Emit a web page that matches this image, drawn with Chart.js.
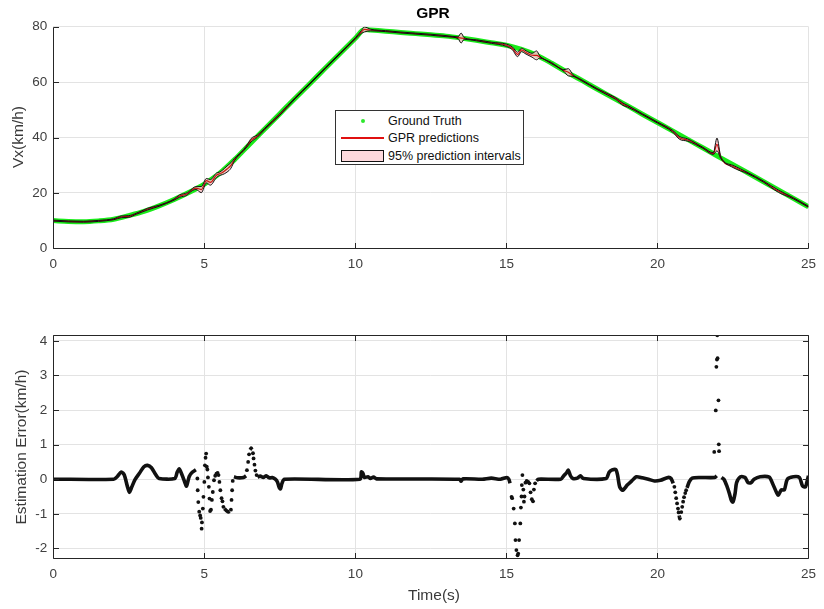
<!DOCTYPE html>
<html><head><meta charset="utf-8">
<script src="https://cdn.jsdelivr.net/npm/chart.js@4.4.1/dist/chart.umd.min.js"></script>
<style>
html,body{margin:0;padding:0;background:#fff;width:824px;height:609px;overflow:hidden;font-family:"Liberation Sans",Arial,Helvetica,sans-serif;}
canvas{position:absolute;left:0;}
#c1{top:0;}
#c2{top:300px;}
.lbl{position:absolute;color:#3a3a3a;white-space:nowrap;line-height:1;}
.rot{transform:translate(-50%,-50%) rotate(-90deg);}
.ctr{transform:translate(-50%,-50%);}
#legend{position:absolute;left:335px;top:110px;width:187px;height:53px;border:1px solid #333;background:#fff;}
#legend .t{position:absolute;left:52px;font-size:12.5px;color:#111;transform:translateY(-50%);white-space:nowrap;line-height:1;}
</style></head><body>
<canvas id="c1" width="824" height="295"></canvas>
<canvas id="c2" width="824" height="300"></canvas>
<div class="lbl ctr" style="left:433px;top:13px;font-weight:bold;font-size:15.5px;color:#000;">GPR</div>
<div class="lbl rot" style="left:18px;top:137px;font-size:15.5px;">Vx(km/h)</div>
<div class="lbl rot" style="left:21px;top:447px;font-size:15.5px;">Estimation Error(km/h)</div>
<div class="lbl ctr" style="left:434px;top:595px;font-size:15.5px;">Time(s)</div>
<div id="legend">
  <div style="position:absolute;left:25px;top:8px;width:4px;height:4px;border-radius:2px;background:#2ee82e;"></div>
  <div class="t" style="top:10px;">Ground Truth</div>
  <div style="position:absolute;left:5px;top:26px;width:43px;height:1.6px;background:#e01010;"></div>
  <div class="t" style="top:27px;">GPR predictions</div>
  <div style="position:absolute;left:5px;top:38.5px;width:41px;height:10.5px;border:1px solid #111;background:#fdd9dc;"></div>
  <div class="t" style="top:44.5px;">95% prediction intervals</div>
</div>
<script>
// ---- tick labels ----
const timeTicks = [0, 5, 10, 15, 20, 25];
const speedTicks = [0, 20, 40, 60, 80];
const errorTicks = [-2, -1, 0, 1, 2, 3, 4];

// ---- ground truth Vx (km/h) ----
const gtTime  = [0,0.5,1,1.5,2,2.5,3,3.5,4,4.5,5,5.5,6,6.5,7,7.5,8,8.5,9,9.5,10,10.3,10.5,11,11.5,12,12.5,13,13.5,14,14.5,15,15.5,16,16.5,17,17.5,18,18.5,19,19.5,20,20.5,21,21.5,22,22.5,23,23.5,24,24.5,25];
const gtSpeed = [10.0,9.7,9.6,9.9,10.5,11.8,13.3,15.3,17.6,20.2,23.2,27.0,32.0,37.6,43.1,48.6,54.1,59.5,65.0,70.4,75.8,79.0,78.8,78.4,77.9,77.5,77.1,76.6,75.9,75.1,74.2,73.3,71.8,69.7,66.8,63.6,60.6,57.5,54.5,51.5,48.4,45.4,42.4,39.3,36.3,33.2,30.2,27.2,24.1,21.1,18.0,15.0];

// ---- GPR predictions and 95% interval half-width ----
const predTime  = [0,0.5,1,1.5,2,2.25,2.5,2.75,3,3.12,3.5,4,4.17,4.44,4.5,4.72,4.9,5.07,5.2,5.4,5.5,5.6,5.75,5.88,6,6.3,6.45,6.55,6.75,7,7.5,8,8.5,9,9.5,10,10.2,10.3,10.5,11,11.5,12,12.5,13,13.4,13.5,13.6,14,14.5,15,15.2,15.37,15.5,15.65,15.85,16,16.1,16.5,16.9,17.05,17.2,17.5,18,18.5,18.62,18.86,19,19.5,20,20.5,20.74,21,21.5,21.85,21.97,22.1,22.5,23,23.5,24,24.5,25];
const predSpeed = [10.0,9.7,9.6,9.9,10.5,11.35,11.5,12.5,13.6,14.15,15.35,17.6,18.8,19.7,20.3,21.75,21.2,24.4,23.8,26.35,26.9,27.4,28.6,29.9,32.05,35.45,37.5,39.05,40.45,43.15,48.35,54.1,59.5,65.0,70.4,75.8,78.1,79.0,78.8,78.4,77.9,77.5,77.1,76.6,76.05,75.9,75.75,75.1,74.2,73.3,72.15,70.0,71.6,70.7,69.7,69.65,69.1,66.8,64.2,63.55,62.4,60.6,57.5,54.75,54.05,52.0,51.35,48.4,45.4,42.3,39.8,39.1,36.3,34.2,37.5,32.65,29.55,27.1,24.15,20.65,18.05,15.0];
const predHalf  = [0.18,0.18,0.18,0.18,0.18,0.3,0.3,0.2,0.25,0.3,0.2,0.2,0.4,0.4,0.3,0.5,1.1,0.8,1.0,0.8,0.6,0.8,1.1,1.0,0.4,0.2,0.4,0.6,0.4,0.2,0.3,0.18,0.18,0.18,0.18,0.2,0.5,0.9,0.3,0.18,0.18,0.18,0.18,0.2,0.3,1.8,0.3,0.18,0.2,0.4,0.5,0.8,0.6,0.6,0.7,1.6,0.4,0.2,0.3,1.3,0.3,0.18,0.18,0.3,0.3,0.4,0.3,0.18,0.18,0.3,0.5,0.4,0.18,0.3,2.3,0.3,0.4,0.2,0.2,0.4,0.2,0.18];

// ---- estimation error: continuous runs (null = break) ----
const errLineTime  = [0,2.0,2.12,2.25,2.35,2.45,2.52,2.6,2.7,2.85,3.0,3.12,3.25,3.4,3.5,4.02,4.1,4.17,4.25,4.35,4.41,4.5,4.6,4.72,null,
  5.66,5.72,5.8,5.84,null,
  5.98,6.1,6.3,6.38,null,
  6.52,6.55,6.58,null,
  6.76,6.85,6.95,7.05,7.15,7.25,7.35,7.42,7.48,7.52,7.57,7.65,10.15,10.2,10.25,10.3,10.42,10.5,10.6,10.7,13.45,13.5,13.56,14.2,14.5,14.8,15.02,15.08,15.12,null,
  16.0,16.05,16.8,16.9,17.0,17.05,17.12,17.2,17.35,17.45,17.55,18.3,18.4,18.5,18.62,18.68,18.75,18.85,19.0,19.15,19.3,19.5,19.7,19.9,20.1,20.35,20.45,20.52,null,
  20.72,20.74,20.76,null,
  20.98,21.05,21.15,21.4,21.9,21.96,null,
  22.12,22.2,22.3,22.38,22.45,22.5,22.57,22.62,22.75,22.9,23.0,23.1,23.2,23.4,23.7,23.8,23.95,24.0,24.1,24.2,24.3,24.5,24.7,24.8,24.9,24.97,25.0];
const errLineValue = [0,0,0.08,0.21,0.12,-0.2,-0.38,-0.22,-0.02,0.17,0.36,0.40,0.33,0.12,0.02,0.02,0.2,0.3,0.15,-0.08,-0.2,0.08,0.2,0.27,null,
  -0.85,-0.9,-0.95,-0.93,null,
  0.07,0.04,0.05,0.1,null,
  0.85,0.9,0.86,null,
  0.06,0.09,0.05,0.1,0.04,0.05,0.0,-0.08,-0.24,-0.28,-0.12,0.0,0.0,0.21,0.17,0.05,0.07,0.02,0.06,0.01,0.0,-0.06,0.01,0.0,0.03,0.0,0.05,0.0,-0.12,null,
  -0.05,0.0,0.0,0.1,0.2,0.26,0.1,0.02,0.03,0.1,0.02,0.02,0.2,0.27,0.28,0.12,-0.22,-0.32,-0.17,-0.05,0.07,0.04,0.0,-0.05,-0.03,0.05,0.02,-0.12,null,
  -1.05,-1.14,-1.1,null,
  -0.25,-0.08,0.03,0.05,0.05,0.1,null,
  0.05,0.0,-0.2,-0.41,-0.62,-0.66,-0.41,-0.1,0.07,0.05,-0.1,-0.1,0.0,0.07,0.06,-0.1,-0.4,-0.46,-0.31,-0.31,0.0,0.07,0.05,-0.19,-0.22,0.0,0.1];

// ---- estimation error: isolated samples ----
const errDotTime  = [4.77,4.78,4.80,4.83,4.86,4.88,4.91,4.92,4.95,4.97,5.0,5.02,5.04,5.06,5.08,5.1,5.12,5.15,5.17,5.19,5.22,5.25,5.28,5.32,5.36,5.4,5.44,5.47,5.5,5.53,5.57,5.6,5.63,5.88,5.9,5.92,5.94,
  6.41,6.45,6.48,6.61,6.63,6.66,6.69,6.73,
  15.17,15.19,15.24,15.28,15.3,15.33,15.37,15.39,15.42,15.46,15.48,15.5,15.51,15.53,15.56,15.58,15.6,15.63,15.67,15.72,15.76,15.8,15.84,15.88,15.91,15.95,
  20.56,20.59,20.62,20.65,20.68,20.7,20.79,20.82,20.85,20.88,20.92,20.95,
  21.88,21.93,21.95,21.97,21.99,21.98,22.02,22.03,22.04];
const errDotValue = [0.02,-0.32,-0.66,-0.94,-1.05,-1.12,-1.43,-1.25,-0.85,-0.51,-0.08,0.40,0.62,0.74,0.36,0.28,0.05,-0.22,-0.56,-0.92,-0.88,-0.6,-0.37,-0.03,0.1,0.16,0.18,0.12,-0.08,-0.32,-0.55,-0.64,-0.8,-0.88,-0.6,-0.32,-0.05,
  0.26,0.5,0.72,0.75,0.6,0.42,0.25,0.12,
  -0.51,-0.55,-0.85,-1.28,-1.76,-2.05,-2.2,-2.15,-1.76,-1.28,-0.82,-0.5,-0.17,0.12,-0.3,-0.65,-0.5,-0.1,-0.05,-0.08,-0.12,-0.38,-0.58,-0.64,-0.3,-0.12,
  -0.22,-0.38,-0.55,-0.7,-0.85,-0.96,-0.95,-0.8,-0.65,-0.52,-0.4,-0.32,
  0.79,1.99,3.25,3.46,3.5,4.16,2.28,1.01,0.81];

// ---- build library data ----
const pts = (xs, ys) => xs.map((t, i) => ({ x: t === null ? xs[i - 1] : t, y: ys[i] }));
const gtData = pts(gtTime, gtSpeed);
const predData = pts(predTime, predSpeed);
const loData = predTime.map((t, i) => ({ x: t, y: predSpeed[i] - predHalf[i] }));
const hiData = predTime.map((t, i) => ({ x: t, y: predSpeed[i] + predHalf[i] }));
const errLine = pts(errLineTime, errLineValue);
const errDots = pts(errDotTime, errDotValue);

const AX = '#262626';
const TICKC = '#404040';
const FONT = { family: '"Liberation Sans", Arial, Helvetica, sans-serif', size: 13.5 };
const GRID = '#e3e3e3';
const TL = 5.5;

function axesPlugin(boxed) {
  return {
    id: 'matlabAxes',
    afterDatasetsDraw(chart) {
      const { ctx, chartArea: a, scales } = chart;
      const x = scales.x, y = scales.y;
      const al = v => Math.round(v) + 0.5;
      const L = al(a.left), R = al(a.right), T = al(a.top), B = al(a.bottom);
      ctx.save();
      ctx.strokeStyle = AX; ctx.lineWidth = 1;
      ctx.beginPath();
      ctx.moveTo(L, T); ctx.lineTo(L, B); ctx.lineTo(R, B);
      if (boxed) { ctx.lineTo(R, T); ctx.lineTo(L, T); }
      x.ticks.forEach(tk => {
        const px = al(x.getPixelForValue(tk.value));
        ctx.moveTo(px, B); ctx.lineTo(px, B - TL);
        if (boxed) { ctx.moveTo(px, T); ctx.lineTo(px, T + TL); }
      });
      y.ticks.forEach(tk => {
        const py = al(y.getPixelForValue(tk.value));
        ctx.moveTo(L, py); ctx.lineTo(L + TL, py);
        if (boxed) { ctx.moveTo(R, py); ctx.lineTo(R - TL, py); }
      });
      ctx.stroke();
      ctx.restore();
    }
  };
}

function scalesFor(yMin, yMax, yTicks, xHeight) {
  return {
    x: {
      type: 'linear', min: 0, max: 25,
      afterBuildTicks: s => { s.ticks = timeTicks.map(v => ({ value: v })); },
      afterFit: s => { s.height = xHeight; },
      grid: { color: GRID, drawTicks: false },
      border: { display: false },
      ticks: { color: TICKC, font: FONT, padding: 8, maxRotation: 0 }
    },
    y: {
      type: 'linear', min: yMin, max: yMax,
      afterBuildTicks: s => { s.ticks = yTicks.map(v => ({ value: v })); },
      afterFit: s => { s.width = 53.3; },
      grid: { color: GRID, drawTicks: false },
      border: { display: false },
      ticks: { color: TICKC, font: FONT, padding: 6 }
    }
  };
}

const common = {
  responsive: false, animation: false,
  plugins: { legend: { display: false }, tooltip: { enabled: false } },
  elements: { point: { radius: 0 } }
};

new Chart(document.getElementById('c1'), {
  type: 'line',
  data: {
    datasets: [
      { data: gtData, borderColor: 'rgb(25,235,25)', borderWidth: 5, cubicInterpolationMode: 'monotone', fill: false, order: 6, pointRadius: 0 },
      { data: loData, borderColor: 'rgba(0,0,0,0)', borderWidth: 0, cubicInterpolationMode: 'monotone', fill: false, order: 5, pointRadius: 0 },
      { data: hiData, borderColor: 'rgba(0,0,0,0)', borderWidth: 0, cubicInterpolationMode: 'monotone', fill: 1, backgroundColor: 'rgba(252,200,205,0.85)', order: 4, pointRadius: 0 },
      { data: predData, borderColor: '#d01010', borderWidth: 1.2, cubicInterpolationMode: 'monotone', fill: false, order: 3, pointRadius: 0 },
      { data: loData, borderColor: '#111', borderWidth: 1, cubicInterpolationMode: 'monotone', fill: false, order: 2, pointRadius: 0 },
      { data: hiData, borderColor: '#111', borderWidth: 1, cubicInterpolationMode: 'monotone', fill: false, order: 1, pointRadius: 0 }
    ]
  },
  options: Object.assign({}, common, {
    layout: { padding: { top: 26.7, right: 10.7, left: 0, bottom: 0 } },
    scales: scalesFor(0, 80, speedTicks, 46.7)
  }),
  plugins: [axesPlugin(false)]
});

new Chart(document.getElementById('c2'), {
  type: 'line',
  data: {
    datasets: [
      { data: errDots, showLine: false, pointRadius: 1.9, pointBorderWidth: 0, pointBackgroundColor: '#111', borderColor: '#111', order: 1 },
      { data: errLine, borderColor: '#111', borderWidth: 3.6, tension: 0.25, spanGaps: false, fill: false, pointRadius: 0, order: 2 }
    ]
  },
  options: Object.assign({}, common, {
    layout: { padding: { top: 35, right: 10.7, left: 0, bottom: 0 } },
    scales: scalesFor(-2.27, 4.17, errorTicks, 42.3)
  }),
  plugins: [axesPlugin(true)]
});
</script>
</body></html>
